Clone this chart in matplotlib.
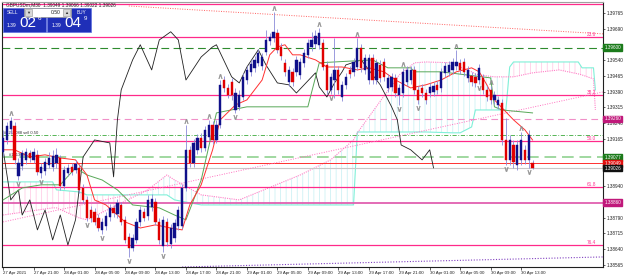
import matplotlib
matplotlib.use("Agg")
import matplotlib.pyplot as plt
from matplotlib.patches import Rectangle

# GBPUSDm M30, bar 0 = 27 Apr 2021 17:00
opens = [1.39103, 1.39160, 1.39213, 1.39227, 1.38989, 1.39036, 1.39065, 1.39098, 1.39065, 1.39089,
         1.39003, 1.39012, 1.39041, 1.39031, 1.39050, 1.39074, 1.38941, 1.39003, 1.39031, 1.39017,
         1.39027, 1.38931, 1.38874, 1.38826, 1.38817, 1.38788, 1.38731, 1.38750, 1.38793, 1.38836,
         1.38807, 1.38850, 1.38779, 1.38698, 1.38645, 1.38683, 1.38769, 1.38817, 1.38798, 1.38841,
         1.38864, 1.38769, 1.38655, 1.38769, 1.38664, 1.38693, 1.38750, 1.38750, 1.38931, 1.39113,
         1.39050, 1.39113, 1.39170, 1.39122, 1.39175, 1.39232, 1.39160, 1.39232, 1.39446, 1.39408,
         1.39437, 1.39303, 1.39318, 1.39365, 1.39446, 1.39485, 1.39504, 1.39528, 1.39513, 1.39580,
         1.39633, 1.39647, 1.39671, 1.39604, 1.39528, 1.39437, 1.39485, 1.39485, 1.39470, 1.39528,
         1.39566, 1.39604, 1.39618, 1.39614, 1.39623, 1.39518, 1.39399, 1.39446, 1.39494, 1.39365,
         1.39423, 1.39494, 1.39485, 1.39508, 1.39599, 1.39494, 1.39446, 1.39551, 1.39446, 1.39518,
         1.39532, 1.39408, 1.39413, 1.39456, 1.39375, 1.39384, 1.39437, 1.39446, 1.39494, 1.39399,
         1.39408, 1.39384, 1.39384, 1.39389, 1.39423, 1.39408, 1.39480, 1.39485, 1.39494, 1.39513,
         1.39528, 1.39532, 1.39456, 1.39466, 1.39461, 1.39446, 1.39456, 1.39399, 1.39399, 1.39351,
         1.39327, 1.39337, 1.39160, 1.39065, 1.39136, 1.39041, 1.39065, 1.39113, 1.39065, 1.39049]
highs = [1.39208, 1.39246, 1.39270, 1.39246, 1.39074, 1.39113, 1.39122, 1.39113, 1.39122, 1.39113,
         1.39050, 1.39074, 1.39103, 1.39113, 1.39122, 1.39089, 1.39036, 1.39046, 1.39050, 1.39065,
         1.39041, 1.38950, 1.38893, 1.38845, 1.38836, 1.38807, 1.38788, 1.38817, 1.38855, 1.38850,
         1.38879, 1.38864, 1.38798, 1.38717, 1.38712, 1.38788, 1.38845, 1.38836, 1.38898, 1.38903,
         1.38884, 1.38788, 1.38798, 1.38788, 1.38760, 1.38783, 1.38845, 1.38950, 1.39232, 1.39132,
         1.39165, 1.39189, 1.39194, 1.39227, 1.39256, 1.39251, 1.39256, 1.39446, 1.39466, 1.39427,
         1.39456, 1.39408, 1.39399, 1.39480, 1.39513, 1.39542, 1.39561, 1.39594, 1.39575, 1.39685,
         1.39671, 1.39771, 1.39690, 1.39623, 1.39547, 1.39513, 1.39504, 1.39561, 1.39551, 1.39594,
         1.39642, 1.39676, 1.39685, 1.39695, 1.39642, 1.39537, 1.39480, 1.39647, 1.39513, 1.39442,
         1.39480, 1.39513, 1.39551, 1.39647, 1.39618, 1.39570, 1.39570, 1.39570, 1.39547, 1.39542,
         1.39551, 1.39475, 1.39480, 1.39475, 1.39427, 1.39504, 1.39513, 1.39513, 1.39513, 1.39418,
         1.39427, 1.39403, 1.39432, 1.39437, 1.39442, 1.39504, 1.39532, 1.39537, 1.39551, 1.39590,
         1.39547, 1.39551, 1.39513, 1.39485, 1.39480, 1.39523, 1.39475, 1.39418, 1.39418, 1.39394,
         1.39370, 1.39356, 1.39265, 1.39184, 1.39160, 1.39160, 1.39198, 1.39136, 1.39208, 1.39066]
lows = [1.39084, 1.39141, 1.39189, 1.39046, 1.38969, 1.39017, 1.39046, 1.39055, 1.39050, 1.38993,
        1.38979, 1.38993, 1.39027, 1.39012, 1.39027, 1.38922, 1.38926, 1.38989, 1.38993, 1.39003,
        1.38907, 1.38860, 1.38774, 1.38769, 1.38755, 1.38726, 1.38712, 1.38731, 1.38774, 1.38793,
        1.38788, 1.38755, 1.38669, 1.38602, 1.38631, 1.38669, 1.38750, 1.38774, 1.38779, 1.38822,
        1.38755, 1.38664, 1.38626, 1.38655, 1.38645, 1.38674, 1.38731, 1.38736, 1.38917, 1.39031,
        1.39031, 1.39093, 1.39103, 1.39108, 1.39160, 1.39141, 1.39146, 1.39217, 1.39389, 1.39361,
        1.39351, 1.39289, 1.39303, 1.39351, 1.39427, 1.39466, 1.39485, 1.39513, 1.39494, 1.39566,
        1.39614, 1.39628, 1.39575, 1.39542, 1.39466, 1.39418, 1.39418, 1.39466, 1.39451, 1.39508,
        1.39551, 1.39585, 1.39599, 1.39594, 1.39494, 1.39380, 1.39380, 1.39361, 1.39380, 1.39346,
        1.39403, 1.39456, 1.39466, 1.39494, 1.39485, 1.39475, 1.39427, 1.39427, 1.39427, 1.39437,
        1.39442, 1.39389, 1.39394, 1.39365, 1.39327, 1.39365, 1.39418, 1.39427, 1.39380, 1.39332,
        1.39365, 1.39332, 1.39365, 1.39370, 1.39380, 1.39389, 1.39461, 1.39466, 1.39475, 1.39494,
        1.39475, 1.39466, 1.39437, 1.39418, 1.39413, 1.39427, 1.39380, 1.39346, 1.39332, 1.39332,
        1.39308, 1.39136, 1.39041, 1.39041, 1.39027, 1.39017, 1.39041, 1.39046, 1.39027, 1.39022]
closes = [1.39170, 1.39227, 1.39251, 1.39065, 1.39050, 1.39098, 1.39103, 1.39074, 1.39103, 1.39008,
          1.39031, 1.39055, 1.39074, 1.39084, 1.39089, 1.38941, 1.39017, 1.39027, 1.39008, 1.39046,
          1.38922, 1.38874, 1.38788, 1.38788, 1.38769, 1.38740, 1.38769, 1.38798, 1.38836, 1.38812,
          1.38860, 1.38769, 1.38683, 1.38645, 1.38693, 1.38769, 1.38826, 1.38788, 1.38874, 1.38879,
          1.38769, 1.38683, 1.38779, 1.38674, 1.38740, 1.38764, 1.38826, 1.38931, 1.39113, 1.39050,
          1.39146, 1.39170, 1.39122, 1.39208, 1.39232, 1.39160, 1.39232, 1.39423, 1.39408, 1.39375,
          1.39375, 1.39384, 1.39375, 1.39461, 1.39494, 1.39523, 1.39542, 1.39575, 1.39556, 1.39637,
          1.39652, 1.39676, 1.39590, 1.39561, 1.39485, 1.39494, 1.39437, 1.39542, 1.39532, 1.39575,
          1.39623, 1.39637, 1.39657, 1.39671, 1.39508, 1.39399, 1.39461, 1.39494, 1.39399, 1.39423,
          1.39461, 1.39475, 1.39532, 1.39599, 1.39504, 1.39551, 1.39551, 1.39446, 1.39528, 1.39456,
          1.39461, 1.39456, 1.39461, 1.39384, 1.39408, 1.39485, 1.39494, 1.39494, 1.39399, 1.39351,
          1.39384, 1.39351, 1.39413, 1.39418, 1.39399, 1.39485, 1.39513, 1.39518, 1.39532, 1.39532,
          1.39494, 1.39485, 1.39494, 1.39437, 1.39432, 1.39504, 1.39399, 1.39365, 1.39351, 1.39375,
          1.39351, 1.39160, 1.39065, 1.39160, 1.39055, 1.39136, 1.39160, 1.39065, 1.39184, 1.39026]

# indicator lines (bar index, price)
red_x = [0, 3, 7, 11, 15, 19, 22, 24, 27, 30, 32, 36, 40, 44, 47, 49, 52, 55, 57, 61, 64, 68, 70, 72,
         74, 76, 78, 82, 85, 89, 93, 96, 100, 103, 107, 111, 115, 119, 123, 125, 127, 129, 132, 134, 137, 139]
red_y = [1.39113, 1.39113, 1.39079, 1.39089, 1.39074, 1.39065, 1.38993, 1.38874, 1.38850, 1.38802,
         1.38769, 1.38740, 1.38755, 1.38740, 1.38731, 1.38850, 1.38946, 1.39113, 1.39256, 1.39327,
         1.39351, 1.39446, 1.39566, 1.39604, 1.39614, 1.39566, 1.39566, 1.39542, 1.39508, 1.39508,
         1.39494, 1.39504, 1.39485, 1.39446, 1.39408, 1.39423, 1.39446, 1.39485, 1.39504, 1.39485,
         1.39423, 1.39351, 1.39294, 1.39256, 1.39208, 1.39160]
green_x = [0, 5, 10, 15, 19, 22, 26, 30, 34, 41, 45, 48, 52, 56, 64, 80, 83, 87, 97, 101, 107, 108,
           115, 128, 129, 131, 139]
green_y = [1.38874, 1.38931, 1.38946, 1.38946, 1.39027, 1.38993, 1.38969, 1.38922, 1.38850, 1.38836,
           1.38802, 1.38779, 1.38969, 1.39289, 1.39318, 1.39318, 1.39528, 1.39532, 1.39542, 1.39504,
           1.39504, 1.39485, 1.39485, 1.39456, 1.39318, 1.39303, 1.39289]
black_x = [0, 2, 4, 5, 7, 9, 11, 13, 15, 17, 19, 21, 24, 28, 29, 30, 31, 34, 36, 39, 41, 44, 46, 48,
           52, 55, 56, 60, 62, 64, 67, 69, 72, 75, 77, 82, 83, 85, 87, 89, 90, 94, 96, 99, 102, 103.5,
           104.5, 107, 110, 112, 113]
black_y = [1.39113, 1.38874, 1.38922, 1.38802, 1.38874, 1.38731, 1.38826, 1.38683, 1.38802, 1.38659,
           1.38779, 1.39079, 1.39160, 1.39146, 1.38984, 1.39256, 1.39399, 1.39542, 1.39614, 1.39494,
           1.39637, 1.39676, 1.39637, 1.39446, 1.39556, 1.39604, 1.39614, 1.39461, 1.39432, 1.39508,
           1.39590, 1.39518, 1.39432, 1.39423, 1.39384, 1.39480, 1.39413, 1.39365, 1.39432, 1.39485,
           1.39518, 1.39542, 1.39494, 1.39423, 1.39318, 1.39256, 1.39136, 1.39113, 1.39065, 1.39113,
           1.39027]

# ichimoku cloud spans (common bar index grid)
cloud_x = [0, 13, 14, 20, 22, 30, 38, 43, 45, 52, 62, 78, 86, 92, 93, 104, 108, 111, 118, 120, 123,
           124, 125, 129, 132, 133, 134, 139, 146, 151, 152, 155, 155.5]
span_a = [1.38960, 1.38960, 1.38922, 1.38912, 1.38898, 1.38898, 1.38898, 1.38898, 1.38874, 1.38850,
          1.38850, 1.38850, 1.38850, 1.38850, 1.39198, 1.39198, 1.39198, 1.39198, 1.39194, 1.39194,
          1.39222, 1.39303, 1.39303, 1.39303, 1.39303, 1.39508, 1.39532, 1.39532, 1.39532, 1.39532,
          1.39504, 1.39504, 1.39399]
span_b = [1.38802, 1.38836, 1.38836, 1.38788, 1.38779, 1.38850, 1.38922, 1.38993, 1.38969, 1.38898,
          1.38874, 1.38993, 1.39065, 1.39160, 1.39194, 1.39470, 1.39528, 1.39532, 1.39528, 1.39508,
          1.39485, 1.39475, 1.39470, 1.39461, 1.39461, 1.39461, 1.39461, 1.39480, 1.39494, 1.39475,
          1.39470, 1.39451, 1.39303]

# horizontal levels
fib_levels = [1.39808, 1.39652, 1.39375, 1.39155, 1.38936, 1.38659]
fib_names = ["0.0", "23.6", "38.2", "50.0", "61.8", "76.4"]
open_price = 1.39184
bid, ask = 1.39026, 1.39049
box_prices = [1.39600, 1.39260, 1.39077, 1.39049, 1.39026, 1.38860]
box_colors = ["#1a7a1a", "#c0187a", "#1a7a1a", "#e01010", "#101010", "#c0187a"]

# fractal arrows
frac_up_x = [2, 48, 54, 57, 71, 83, 93, 105, 119, 128, 136]
frac_up_y = [1.39290, 1.39252, 1.39276, 1.39466, 1.39791, 1.39715, 1.39667, 1.39524, 1.39610, 1.39438, 1.39218]
frac_dn_x = [4, 10, 22, 26, 33, 42, 61, 86, 104, 109, 125, 132, 138]
frac_dn_y = [1.38949, 1.38959, 1.38754, 1.38692, 1.38582, 1.38606, 1.39269, 1.39360, 1.39307, 1.39312, 1.39407, 1.39021, 1.39007]

# time axis labels every 8 bars
date_pos = list(range(0, 137, 8))
date_labels = ["27 Apr 2021", "27 Apr 21:00", "28 Apr 01:00", "28 Apr 05:00", "28 Apr 09:00",
               "28 Apr 13:00", "28 Apr 17:00", "28 Apr 21:00", "29 Apr 01:00", "29 Apr 05:00",
               "29 Apr 09:00", "29 Apr 13:00", "29 Apr 17:00", "29 Apr 21:00", "30 Apr 01:00",
               "30 Apr 05:00", "30 Apr 09:00", "30 Apr 13:00"]
price_ticks = [1.38565, 1.38640, 1.38715, 1.38790, 1.38865, 1.38940, 1.39015, 1.39090, 1.39165,
               1.39240, 1.39315, 1.39390, 1.39465, 1.39540, 1.39615, 1.39690, 1.39765]
hidden_ticks = [1.38865, 1.39015, 1.39090, 1.39615]   # covered by the price boxes

plt.rcParams["font.family"] = "Liberation Sans"
plt.rcParams["hatch.linewidth"] = 0.5
W, H = 625, 277
fig = plt.figure(figsize=(W / 100, H / 100), dpi=100)
ax = fig.add_axes([2 / W, 1 - 267 / H, 601 / W, 265 / H])
ax.set_xlim(-0.3, 157.5)
ax.set_ylim(1.38554, 1.39818)

# cloud
ax.fill_between(cloud_x, span_a, span_b, where=[a >= b for a, b in zip(span_a, span_b)],
                interpolate=True, facecolor="none", edgecolor="#ffc4e2", hatch="|||", lw=0, zorder=1)
ax.fill_between(cloud_x, span_a, span_b, where=[a < b for a, b in zip(span_a, span_b)],
                interpolate=True, facecolor="none", edgecolor="#c4eef2", hatch="|||", lw=0, zorder=1)
ax.plot(cloud_x, span_a, color="#7ff0d8", lw=0.8, zorder=2)
ax.plot(cloud_x, span_b, color="#ff80c8", lw=0.8, ls=(0, (1, 1)), zorder=2)

# horizontal lines
for lv, nm in zip(fib_levels, fib_names):
    ax.axhline(lv, color="#ff2a8a", lw=0.9, zorder=2)
    if nm != "0.0":
        ax.text(154.5, lv, nm, color="#ff3090", fontsize=3.4, ha="center", va="bottom", zorder=3)
ax.axhline(1.39600, color="#2e8b2e", lw=0.8, ls=(0, (7, 4)), zorder=2)
ax.axhline(1.39260, color="#f090c8", lw=0.8, ls=(0, (6, 4)), zorder=2)
ax.axhline(open_price, color="#3aa83a", lw=0.6, ls=(0, (5, 2, 1, 2)), zorder=2)
ax.axhline(1.39077, color="#a0d8a0", lw=1.4, ls=(0, (6, 3)), zorder=2)
ax.axhline(ask, color="#ff3030", lw=0.7, zorder=2)
ax.axhline(bid, color="#c8c8c8", lw=0.8, zorder=2)
ax.axhline(1.38860, color="#e060b0", lw=1.3, zorder=2)
ax.text(0.3, open_price + 0.00004, "#1213088 sell 0.50", fontsize=3.0, color="#303030", zorder=3)
ax.text(1.5, 1.39079 + 0.00004, "#1213088 sl", fontsize=3.0, color="#303030", zorder=3)

# trend lines
ax.plot([47, 157.5], [1.38554, 1.38602], color="#8040c0", lw=0.8, ls=(0, (1, 1.5)), zorder=2)
ax.plot([33, 157.5], [1.39799, 1.39666], color="#ff6060", lw=0.7, ls=(0, (1, 1.5)), zorder=2)
ax.plot([0, 157.5], [1.38769, 1.39389], color="#ff70c0", lw=0.7, ls=(0, (1, 1.5)), zorder=2)

# indicator lines
ax.plot(black_x, black_y, color="#202020", lw=0.6, zorder=3)
ax.plot(green_x, green_y, color="#58a858", lw=0.7, zorder=3)
ax.plot(red_x, red_y, color="#ff3030", lw=0.7, zorder=3)

# candles
xs = list(range(len(opens)))
ax.vlines(xs, lows, highs, color="#8a8ad8", lw=0.6, zorder=4)
for i in xs:
    o, c = opens[i], closes[i]
    col = "#10108a" if c >= o else "#e00000"
    ax.bar(i, max(abs(c - o), 0.000015), bottom=min(o, c), width=0.6, color=col,
           edgecolor=col, lw=0.3, zorder=5)

ax.scatter(frac_up_x, frac_up_y, marker=r"$\wedge$", s=10, color="#909090", lw=0.3, zorder=6)
ax.scatter(frac_dn_x, frac_dn_y, marker=r"$\vee$", s=10, color="#909090", lw=0.3, zorder=6)

# axes styling
for s in ["left", "bottom", "right"]:
    ax.spines[s].set_color("#202020")
    ax.spines[s].set_linewidth(0.8)
ax.spines["top"].set_color("#a0a0a0")
ax.yaxis.tick_right()
ax.set_yticks(price_ticks)
ax.set_yticklabels(["" if p in hidden_ticks else f"{p:.5f}" for p in price_ticks])
ax.tick_params(axis="y", direction="out", length=1.5, width=0.5, labelsize=3.3, pad=1, colors="#202020")
ax.set_xticks(date_pos)
ax.set_xticklabels(date_labels, ha="left")
ax.tick_params(axis="x", direction="out", length=2, width=0.5, labelsize=3.2, pad=0.8, colors="#202020")

# price boxes on the scale
for p, c in zip(box_prices, box_colors):
    ax.annotate(f"{p:.5f}", xy=(1.0, p), xycoords=("axes fraction", "data"),
                xytext=(1.0, 0), textcoords="offset points", fontsize=3.3, color="white",
                va="center", ha="left", annotation_clip=False, zorder=10,
                bbox=dict(boxstyle="square,pad=0.2", fc=c, ec=c))

# one-click trading panel and title
ov = fig.add_axes([0, 0, 1, 1], facecolor="none")
ov.set_xlim(0, W)
ov.set_ylim(H, 0)
ov.axis("off")
ov.text(6, 4.5, "GBPUSDm,M30  1.39049 1.39066 1.39022 1.39026", fontsize=3.4, color="#202020", va="center")
ov.add_patch(Rectangle((3, 8), 43, 24, fc="#1f2fb8", ec="#6070e0", lw=0.5))
ov.add_patch(Rectangle((47, 8), 44, 24, fc="#1f2fb8", ec="#6070e0", lw=0.5))
ov.add_patch(Rectangle((24, 8), 47, 9, fc="white", ec="#909090", lw=0.5))
ov.add_patch(Rectangle((25, 9), 7, 7, fc="#d8d8d8", ec="#909090", lw=0.4))
ov.add_patch(Rectangle((63, 9), 7, 7, fc="#d8d8d8", ec="#909090", lw=0.4))
ov.text(13, 12.5, "SELL", fontsize=3.4, color="white", ha="center", va="center")
ov.text(81, 12.5, "BUY", fontsize=3.4, color="white", ha="center", va="center")
ov.text(28.5, 12.5, "▼", fontsize=3, color="#303030", ha="center", va="center")
ov.text(66.5, 12.5, "▲", fontsize=3, color="#303030", ha="center", va="center")
ov.text(61, 12.5, "0.50", fontsize=3.6, color="#202020", ha="right", va="center")
ov.text(7, 28, "1.39", fontsize=3.6, color="white", va="bottom")
ov.text(19, 30, "02", fontsize=11, color="white", va="bottom")
ov.text(38, 19, "6", fontsize=4.5, color="white", va="center")
ov.text(52, 28, "1.39", fontsize=3.6, color="white", va="bottom")
ov.text(64, 30, "04", fontsize=11, color="white", va="bottom")
ov.text(84, 19, "9", fontsize=4.5, color="white", va="center")

fig.savefig("out.png", dpi=100)
